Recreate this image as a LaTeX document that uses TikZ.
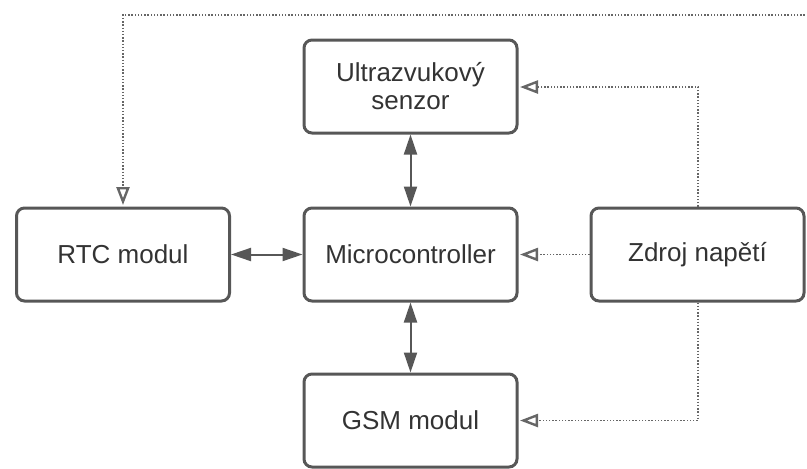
\documentclass[tikz,border=0pt]{standalone}
\usepackage{fontspec}
\setmainfont{Liberation Sans}
\usetikzlibrary{arrows.meta}
\definecolor{linec}{HTML}{575757}
\definecolor{textc}{HTML}{333333}
\definecolor{dotc}{HTML}{666666}
\tikzset{
  blk/.style={draw=linec, line width=3pt, rounded corners=8pt, fill=white,
    minimum width=213pt, minimum height=93pt, inner sep=0pt,
    align=center, text=textc, font=\fontsize{26}{28}\selectfont},
  bidir/.style={draw=linec, line width=2pt,
    {Triangle[length=20pt,width=13pt]}-{Triangle[length=20pt,width=13pt]}},
  pwr/.style={draw=dotc, line width=1.6pt, dash pattern=on 1.4pt off 1.8pt,
    -{Triangle[open,length=18pt,width=13pt,line width=2.4pt,sep=1.5pt]}}
}
\begin{document}
\begin{tikzpicture}[x=1pt,y=-1pt]
\useasboundingbox (0,0) rectangle (807,469);
\node[blk] (us) at (410.5,86.5) {Ultrazvukový\\senzor};
\node[blk] (rtc) at (123,254.5) {RTC modul};
\node[blk] (mc) at (410.5,254.5) {Microcontroller};
\node[blk] (zn) at (697.5,254.5) {Zdroj napětí};
\node[blk] (gsm) at (410.5,420.5) {GSM modul};
\coordinate (edge) at (808,15);
\coordinate (c1) at (123,15);
\coordinate (c2) at (698,87);
\coordinate (c3) at (698,420.5);
\draw[bidir] (rtc.east) -- (mc.west);
\draw[bidir] (us.south) -- (mc.north);
\draw[bidir] (gsm.north) -- (mc.south);
\draw[pwr] (edge) -- (c1) -- (rtc.north);
\draw[pwr] (zn.west) -- (mc.east);
\draw[pwr] (zn.north -| c2) -- (c2) -- (us.east |- c2);
\draw[pwr] (zn.south -| c3) -- (c3) -- (gsm.east);
\end{tikzpicture}
\end{document}
